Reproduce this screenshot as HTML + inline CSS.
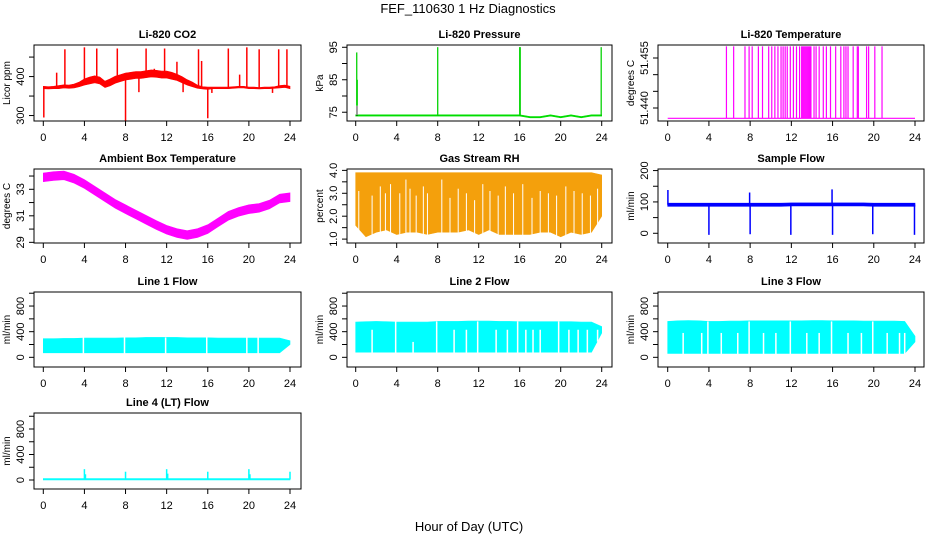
<!DOCTYPE html>
<html><head><meta charset="utf-8">
<style>
html,body{margin:0;padding:0;background:#fff;}
svg{display:block;font-family:"Liberation Sans",Arial,sans-serif;}
</style></head>
<body>
<svg id="chart" width="936" height="540" viewBox="0 0 936 540" xmlns="http://www.w3.org/2000/svg">
<text x="468" y="13" text-anchor="middle" font-size="13">FEF_110630  1 Hz Diagnostics</text>
<text x="469" y="531" text-anchor="middle" font-size="13">Hour of Day (UTC)</text>
</svg>
<script>
// ---------- data ----------
const hoursHalf = [0,0.5,1,1.5,2,2.5,3,3.5,4,4.5,5,5.5,6,6.5,7,7.5,8,8.5,9,9.5,10,10.5,11,11.5,12,12.5,13,13.5,14,14.5,15,15.5,16,16.5,17,17.5,18,18.5,19,19.5,20,20.5,21,21.5,22,22.5,23,23.5,24];
const co2Mid = [372,371,372,373,375,374,376,380,386,390,393,390,380,385,392,396,400,402,404,404,406,408,407,405,405,402,398,392,385,380,374,371,370,371,371,371,371,372,373,373,371,371,370,371,371,372,374,375,372];
const co2Spread = [3,3,3,4,4,4,5,6,8,9,9,9,8,9,9,9,9,9,9,9,9,9,9,9,9,9,8,8,7,6,4,3,3,2,2,2,2,2,2,2,2,2,2,2,2,2,3,3,3];
const co2SpikeHours = [0.05,1.3,2.1,3.0,4.0,5.2,5.6,7.2,8.0,9.3,10.0,10.8,11.8,13.0,13.6,15.1,15.4,16.0,16.4,18.0,19.1,19.8,21.0,22.3,22.9,23.7];
const co2SpikeVals = [295,410,470,380,475,472,380,472,286,360,472,420,472,438,360,470,440,293,358,472,405,475,470,358,470,470];

const hoursFull = [0,1,2,3,4,5,6,7,8,9,10,11,12,13,14,15,16,17,18,19,20,21,22,23,24];
const ambMid = [33.9,34.0,34.05,33.8,33.4,32.9,32.4,31.9,31.5,31.1,30.7,30.3,29.95,29.7,29.55,29.7,30.0,30.5,31.0,31.3,31.5,31.6,31.85,32.3,32.4];
const ambSpread = [0.33,0.33,0.33,0.33,0.33,0.33,0.33,0.33,0.33,0.33,0.33,0.33,0.33,0.33,0.33,0.33,0.33,0.33,0.33,0.33,0.33,0.33,0.33,0.33,0.33];

const presBase = [74,74,74,74,74,74,74,74,74,74,74,74,74,74,74,74,74,73.5,73.5,74,73.5,74,73.5,74,74];
const presSpikeHours = [0.1,0.15,8.0,16.0,16.05,23.95];
const presSpikeVals = [93.4,85,95,95,95,95];

const rhHigh = [3.9,3.9,3.9,3.9,3.9,3.9,3.9,3.9,3.9,3.9,3.9,3.9,3.9,3.9,3.9,3.9,3.9,3.9,3.9,3.9,3.9,3.9,3.9,3.9,3.8];
const rhLow = [1.6,1.1,1.3,1.4,1.2,1.3,1.3,1.2,1.3,1.3,1.3,1.4,1.2,1.4,1.2,1.2,1.2,1.2,1.3,1.3,1.1,1.3,1.2,1.3,2.0];
const rhGapHours = [0.3,1.6,2.4,2.9,3.4,4.3,4.9,5.3,5.9,6.6,7.0,8.4,9.2,10.0,10.8,11.6,12.4,13.1,13.9,14.6,15.4,16.3,17.2,18.0,18.8,19.6,20.5,21.3,22.1,22.9,23.6];
const rhGapTops = [3.1,2.9,3.3,3.0,3.4,3.0,3.6,3.2,2.9,3.3,3.0,3.6,2.8,3.2,3.0,2.7,3.4,3.1,2.9,3.3,3.0,3.4,2.8,3.1,3.0,2.9,3.3,3.1,3.0,2.9,3.2];

const ltSpikeHours = [5.7,6.4,7.5,7.9,8.2,8.8,9.2,9.8,10.1,10.4,10.7,11.0,11.2,11.4,11.6,11.9,12.2,12.5,12.8,13.0,13.1,13.2,13.3,13.4,13.5,13.6,13.7,13.8,13.9,14.2,14.4,14.7,15.1,15.4,15.8,16.3,16.8,17.1,17.3,17.5,18.0,18.4,18.5,19.3,19.5,20.1,20.8];
const ltBase = 51.4369;
const ltSpikeVal = 51.4585;

const sfMid = [91,91,91,91,91,91,91,91,91,91,91,91,92,92,92,92,92,92,92,92,91,91,91,91,91];
const sfSpikeHours = [0.02,4.0,7.95,8.0,11.95,15.95,16.0,19.9,23.95];
const sfSpikeVals = [138,-5,130,-3,-5,140,-5,-3,-5];

const l1Low = [70,70,70,70,70,70,70,70,70,70,70,70,70,70,70,70,70,70,70,70,70,70,70,70,200];
const l1High = [290,290,295,295,300,300,300,300,305,305,310,310,310,310,305,305,305,300,300,300,300,300,300,300,260];
const l1GapHours = [3.9,7.9,11.9,15.9,19.8,20.9];
const l1GapTops = [310,310,310,310,310,310];

const l2Low = [80,80,80,80,80,80,80,80,80,80,80,80,80,80,80,80,80,80,80,80,80,80,80,80,380];
const l2High = [550,555,560,555,550,550,550,550,560,560,560,565,565,565,560,560,555,555,555,555,555,555,550,550,480];
const l2GapHours = [1.6,3.9,5.6,7.9,9.6,10.8,11.9,13.7,14.8,15.8,16.6,17.3,18.0,19.8,20.8,21.7,22.6,23.6];
const l2GapTops = [430,560,240,560,430,430,560,430,430,560,430,430,430,560,430,430,430,430];

const l3Low = [60,60,60,60,60,60,60,60,60,60,60,60,60,60,60,60,60,60,60,60,60,60,60,60,240];
const l3High = [560,570,575,570,560,560,565,565,570,570,570,570,570,570,575,575,570,570,570,565,565,565,565,560,330];
const l3GapHours = [1.5,3.3,3.9,5.2,6.8,7.9,9.3,10.5,11.9,13.5,14.7,15.9,17.5,18.8,19.9,21.3,22.5,23.0];
const l3GapTops = [380,380,560,380,380,560,380,380,560,380,380,560,380,380,560,380,380,380];

const l4Base = [10,10,10,10,10,10,10,10,10,10,10,10,10,10,10,10,10,10,10,10,10,10,10,10,10];
const l4SpikeHours = [4.0,4.1,8.0,12.0,12.1,16.0,20.0,20.1,24.0];
const l4SpikeVals = [170,90,130,170,100,130,170,90,130];

const xTicks = [0,4,8,12,16,20,24];

// ---------- drawing helpers ----------
const NS = "http://www.w3.org/2000/svg";
const svg = document.getElementById("chart");
function mk(tag, attrs, parent) {
  const e = document.createElementNS(NS, tag);
  for (const k in attrs) e.setAttribute(k, attrs[k]);
  (parent || svg).appendChild(e);
  return e;
}
const cols = [{l:34,r:301,x0:43.3,x24:290},{l:347,r:612,x0:355.7,x24:601.7},{l:658,r:924,x0:667.7,x24:915}];
const rows = [{t:45,b:121},{t:169,b:243},{t:292,b:367},{t:413,b:489}];

function panel(col,row,title,ylab,vTop,vBot,yTicks,yLabels,key){
  const c = cols[col], r = rows[row];
  const g = mk("g",{});
  
  
  const sx = h => c.x0 + (c.x24 - c.x0) * h / 24;
  const sy = v => r.t + (vTop - v) / (vTop - vBot) * (r.b - r.t);
  const plot = mk("g",{},g);
  
  
  const box = mk("rect",{x:c.l,y:r.t,width:c.r-c.l,height:r.b-r.t,fill:"none",stroke:"#000","stroke-width":1},g);
  
  
  const t = mk("text",{x:(c.l+c.r)/2,y:r.t-7,"text-anchor":"middle","font-size":11,"font-weight":"bold"},g);
  t.textContent = title;
  
  
  const xa = mk("g",{},g);
  
  
  xTicks.forEach(h=>{
    mk("line",{x1:sx(h),x2:sx(h),y1:r.b,y2:r.b+5,stroke:"#000"},xa);
    const tl = mk("text",{x:sx(h),y:r.b+20,"text-anchor":"middle","font-size":11},xa);
    tl.textContent = h;
    
    
  });
  const ya = mk("g",{},g);
  
  
  yTicks.forEach(v=>{
    mk("line",{x1:c.l-5,x2:c.l,y1:sy(v),y2:sy(v),stroke:"#000"},ya);
  });
  yLabels.forEach(v=>{
    const yy = sy(parseFloat(v));
    const tl = mk("text",{x:c.l-10,y:yy,"text-anchor":"middle","font-size":11,transform:`rotate(-90 ${c.l-10} ${yy})`},ya);
    tl.textContent = v;
    
    
  });
  const yl = mk("text",{x:c.l-24,y:(r.t+r.b)/2,"text-anchor":"middle","font-size":10,transform:`rotate(-90 ${c.l-24} ${(r.t+r.b)/2})`},g);
  yl.textContent = ylab;
  
  
  return {sx,sy,plot};
}
function band(p,hours,lo,hi,fill){
  let d = "M";
  hours.forEach((h,i)=>{ d += (i?" L":"") + p.sx(h).toFixed(1)+" "+p.sy(hi[i]).toFixed(1); });
  for (let i=hours.length-1;i>=0;i--) d += " L"+p.sx(hours[i]).toFixed(1)+" "+p.sy(lo[i]).toFixed(1);
  const e = mk("path",{d:d+" Z",fill:fill,stroke:fill,"stroke-width":0.6},p.plot);
  
  
}
function spikes(p,hours,vals,baseFn,color,w){
  hours.forEach((h,i)=>{
    const e = mk("line",{x1:p.sx(h),x2:p.sx(h),y1:p.sy(baseFn(h)),y2:p.sy(vals[i]),stroke:color,"stroke-width":w||1.3},p.plot);
    
    
  });
}
function interp(hours,arr,h){
  for (let i=0;i<hours.length-1;i++) if (h<=hours[i+1]) { const f=(h-hours[i])/(hours[i+1]-hours[i]); return arr[i]+f*(arr[i+1]-arr[i]); }
  return arr[arr.length-1];
}
function gaps(p,hours,lowArr,tops,w){
  hours.forEach((h,i)=>{
    const lo = interp(hoursFull,lowArr,h);
    const e = mk("rect",{x:p.sx(h)-w/2,y:p.sy(tops[i]),width:w,height:Math.max(0,p.sy(lo)-p.sy(tops[i])+1),fill:"#fff"},p.plot);
    
    
  });
}

// ---------- panels ----------
{
  const p = panel(0,0,"Li-820 CO2","Licor ppm",481,286,[300,350,400,450],["300","400"],"co2");
  band(p,hoursHalf,co2Mid.map((v,i)=>v-co2Spread[i]),co2Mid.map((v,i)=>v+co2Spread[i]),"#ff0000");
  spikes(p,co2SpikeHours,co2SpikeVals,h=>interp(hoursHalf,co2Mid,h),"#ff0000",1.5);
}
{
  const p = panel(1,0,"Li-820 Pressure","kPa",95.7,72.3,[75,80,85,90,95],["75","85","95"],"pressure");
  const lo = presBase.map(v=>v-0.2), hi = presBase.map(v=>v+0.2);
  band(p,hoursFull,lo,hi,"#00dd00");
  presSpikeHours.forEach((h,i)=>{
    const e = mk("line",{x1:p.sx(h),x2:p.sx(h),y1:p.sy(74),y2:p.sy(presSpikeVals[i]),stroke:"#000","stroke-width":1,"stroke-dasharray":"1 1"},p.plot);
    
    
  });
  spikes(p,presSpikeHours,presSpikeVals,h=>h<1?77:74,"#00dd00",1.2);
}
{
  const p = panel(2,0,"Li-820 Temperature","degrees C",51.4589,51.4361,[51.440,51.445,51.450,51.455],["51.440","51.455"],"licor-temp");
  const base = mk("line",{x1:p.sx(0),x2:p.sx(24),y1:p.sy(ltBase),y2:p.sy(ltBase),stroke:"#ff00ff","stroke-width":1.2},p.plot);
  
  
  spikes(p,ltSpikeHours,ltSpikeHours.map(()=>ltSpikeVal),()=>ltBase,"#ff00ff",1.2);
}
{
  const p = panel(0,1,"Ambient Box Temperature","degrees C",34.53,28.95,[29,30,31,32,33,34],["29","31","33"],"ambient-temp");
  band(p,hoursFull,ambMid.map((v,i)=>v-ambSpread[i]),ambMid.map((v,i)=>v+ambSpread[i]),"#ff00ff");
}
{
  const p = panel(1,1,"Gas Stream RH","percent",4.06,0.83,[1,1.5,2,2.5,3,3.5,4],["1.0","2.0","3.0","4.0"],"gas-rh");
  band(p,hoursFull,rhLow,rhHigh,"#f4a00c");
  gaps(p,rhGapHours,rhLow.map(v=>v-0.3),rhGapTops,1);
}
{
  const p = panel(2,1,"Sample Flow","ml/min",205,-31,[0,50,100,150,200],["0","100","200"],"sample-flow");
  band(p,hoursFull,sfMid.map(v=>v-5),sfMid.map(v=>v+5),"#0000ff");
  spikes(p,sfSpikeHours,sfSpikeVals,h=>interp(hoursFull,sfMid,h),"#0000ff",1.5);
}
const flowTicks = [0,200,400,600,800,1000];
{
  const p = panel(0,2,"Line 1 Flow","ml/min",1019,-151,flowTicks,["0","400","800"],"line1-flow");
  band(p,hoursFull,l1Low,l1High,"#00ffff");
  gaps(p,l1GapHours,l1Low,l1GapTops,1.5);
}
{
  const p = panel(1,2,"Line 2 Flow","ml/min",1019,-151,flowTicks,["0","400","800"],"line2-flow");
  band(p,hoursFull,l2Low,l2High,"#00ffff");
  gaps(p,l2GapHours,l2Low,l2GapTops,1.5);
}
{
  const p = panel(2,2,"Line 3 Flow","ml/min",1019,-151,flowTicks,["0","400","800"],"line3-flow");
  band(p,hoursFull,l3Low,l3High,"#00ffff");
  gaps(p,l3GapHours,l3Low,l3GapTops,1.5);
}
{
  const p = panel(0,3,"Line 4 (LT) Flow","ml/min",1051,-141,flowTicks,["0","400","800"],"line4-flow");
  band(p,hoursFull,l4Base.map(v=>v-8),l4Base.map(v=>v+12),"#00ffff");
  spikes(p,l4SpikeHours,l4SpikeVals,()=>10,"#00ffff",1.5);
}
</script>
</body></html>
